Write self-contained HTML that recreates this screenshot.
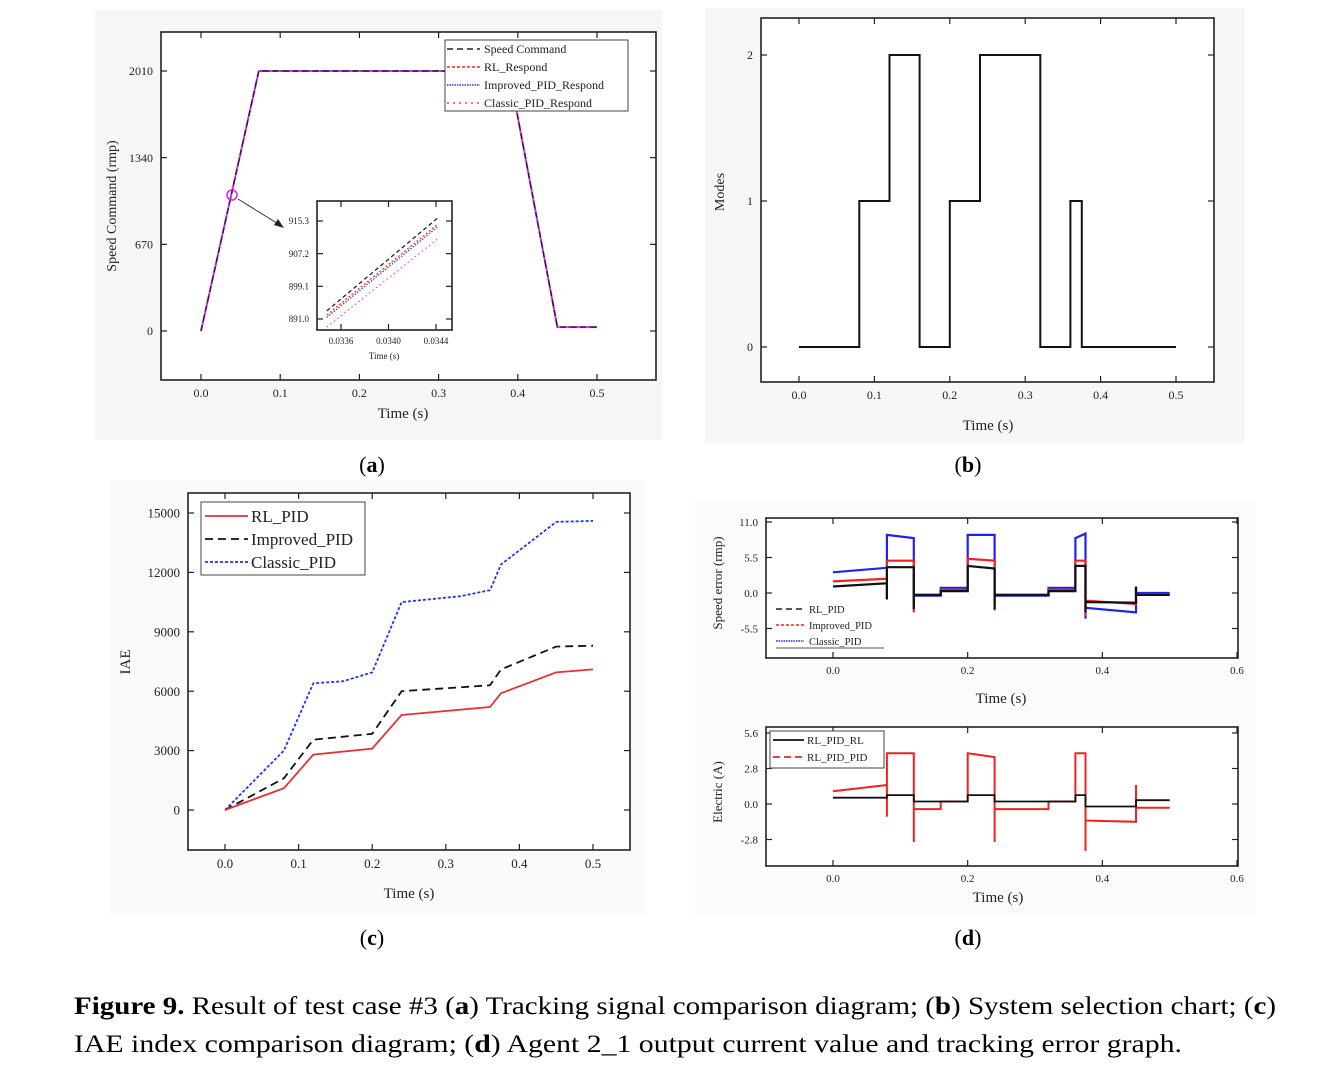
<!DOCTYPE html>
<html><head><meta charset="utf-8"><style>
html,body{margin:0;padding:0;background:#fff;}
svg{display:block;font-family:"Liberation Serif",serif;}
</style></head><body>
<svg id="fig" width="1329" height="1081" viewBox="0 0 1329 1081" xmlns="http://www.w3.org/2000/svg">
<rect x="95" y="10" width="567" height="430" fill="#f6f6f6"/>
<rect x="705" y="8" width="540" height="435" fill="#f7f7f7"/>
<rect x="110" y="480" width="535" height="435" fill="#fafafa"/>
<rect x="695" y="500" width="560" height="415" fill="#fbfbfb"/>
<g id="gA"></g>
<g id="gB"></g>
<g id="gC"></g>
<g id="gD"></g>
<text x="372" y="472" text-anchor="middle" font-size="22">(<tspan font-weight="bold">a</tspan>)</text>
<text x="968" y="472" text-anchor="middle" font-size="22">(<tspan font-weight="bold">b</tspan>)</text>
<text x="372" y="945" text-anchor="middle" font-size="22">(<tspan font-weight="bold">c</tspan>)</text>
<text x="968" y="945" text-anchor="middle" font-size="22">(<tspan font-weight="bold">d</tspan>)</text>
<text x="74" y="1014" font-size="25" textLength="1202" lengthAdjust="spacingAndGlyphs"><tspan font-weight="bold">Figure 9.</tspan> Result of test case #3 (<tspan font-weight="bold">a</tspan>) Tracking signal comparison diagram; (<tspan font-weight="bold">b</tspan>) System selection chart; (<tspan font-weight="bold">c</tspan>)</text>
<text x="74" y="1052" font-size="25" textLength="1108" lengthAdjust="spacingAndGlyphs">IAE index comparison diagram; (<tspan font-weight="bold">d</tspan>) Agent 2_1 output current value and tracking error graph.</text>
</svg>
<script>
// ---------- data ----------
// Panel (a)
const aTicksX = [0.0, 0.1, 0.2, 0.3, 0.4, 0.5];
const aTickLabelsX = ["0.0", "0.1", "0.2", "0.3", "0.4", "0.5"];
const aTicksY = [0, 670, 1340, 2010];
const aTickLabelsY = ["0", "670", "1340", "2010"];
const aCmdT = [0, 0.073, 0.389, 0.45, 0.5];
const aCmdV = [0, 2010, 2010, 30, 30];
const aInsetTicksX = [0.0336, 0.0340, 0.0344];
const aInsetTickLabelsX = ["0.0336", "0.0340", "0.0344"];
const aInsetTicksY = [891.0, 899.1, 907.2, 915.3];
const aInsetTickLabelsY = ["891.0", "899.1", "907.2", "915.3"];
const aInsetT = [0.03348, 0.03442];
const aInsetCmd = [893.0, 916.2];
const aInsetRL = [892.0, 914.6];
const aInsetImp = [891.4, 914.0];
const aInsetCls = [889.0, 911.0];
// Panel (b)
const bTicksX = [0.0, 0.1, 0.2, 0.3, 0.4, 0.5];
const bTickLabelsX = ["0.0", "0.1", "0.2", "0.3", "0.4", "0.5"];
const bTicksY = [0, 1, 2];
const bTickLabelsY = ["0", "1", "2"];
const bBreaks = [0, 0.08, 0.12, 0.16, 0.2, 0.24, 0.32, 0.36, 0.375, 0.5];
const bModes = [0, 1, 2, 0, 1, 2, 0, 1, 0];
// Panel (c)
const cTicksX = [0.0, 0.1, 0.2, 0.3, 0.4, 0.5];
const cTickLabelsX = ["0.0", "0.1", "0.2", "0.3", "0.4", "0.5"];
const cTicksY = [0, 3000, 6000, 9000, 12000, 15000];
const cTickLabelsY = ["0", "3000", "6000", "9000", "12000", "15000"];
const cRLT = [0, 0.08, 0.12, 0.2, 0.24, 0.36, 0.375, 0.45, 0.5];
const cRLV = [0, 1100, 2800, 3100, 4800, 5200, 5900, 6950, 7100];
const cImpT = [0, 0.08, 0.12, 0.2, 0.24, 0.36, 0.375, 0.45, 0.5];
const cImpV = [0, 1600, 3550, 3850, 6000, 6300, 7100, 8250, 8300];
const cClsT = [0, 0.08, 0.12, 0.16, 0.2, 0.24, 0.32, 0.36, 0.375, 0.45, 0.5];
const cClsV = [0, 3000, 6400, 6500, 6950, 10500, 10800, 11100, 12400, 14550, 14600];
// Panel (d)
const dTicksX = [0.0, 0.2, 0.4, 0.6];
const dTickLabelsX = ["0.0", "0.2", "0.4", "0.6"];
const dTopTicksY = [-5.5, 0, 5.5, 11.0];
const dTopTickLabelsY = ["-5.5", "0.0", "5.5", "11.0"];
const dBotTicksY = [-2.8, 0, 2.8, 5.6];
const dBotTickLabelsY = ["-2.8", "0.0", "2.8", "5.6"];
const dBreaks = [0, 0.08, 0.12, 0.16, 0.2, 0.24, 0.32, 0.36, 0.375, 0.45, 0.5];
const dErrRLStart = [1.0, 4.0, -0.3, 0.3, 4.2, -0.3, 0.3, 4.2, -1.4, -0.3];
const dErrRLEnd   = [1.5, 4.0, -0.3, 0.3, 3.8, -0.3, 0.3, 4.2, -1.5, -0.3];
const dErrRLSpike = [0, -1.0, -2.5, 0, 0, -2.5, 0, 0, -3.0, 1.0, 0];
const dErrImpStart = [1.8, 5.0, -0.3, 0.5, 5.3, -0.3, 0.5, 5.0, -1.2, -0.2];
const dErrImpEnd   = [2.2, 5.0, -0.3, 0.5, 5.0, -0.3, 0.5, 5.0, -1.7, -0.2];
const dErrImpSpike = [0, -1.0, -3.0, 0, 0, -2.7, 0, 0, -3.5, 1.0, 0];
const dErrClsStart = [3.2, 9.0, -0.4, 0.8, 9.0, -0.4, 0.8, 8.5, -2.3, 0.0];
const dErrClsEnd   = [3.9, 8.5, -0.4, 0.8, 9.0, -0.4, 0.8, 9.2, -3.0, 0.0];
const dErrClsSpike = [0, 0, -2.0, 0, 0, -2.0, 0, 0, -4.0, 1.0, 0];
const dCurRLStart = [0.5, 0.7, 0.2, 0.2, 0.7, 0.2, 0.2, 0.7, -0.2, 0.3];
const dCurRLEnd   = [0.5, 0.7, 0.2, 0.2, 0.7, 0.2, 0.2, 0.7, -0.2, 0.3];
const dCurRLSpike = [0, 0, 0, 0, 0, 0, 0, 0, 0, 0, 0];
const dCurPIDStart = [1.0, 4.0, -0.4, 0.2, 4.0, -0.4, 0.2, 4.0, -1.3, -0.3];
const dCurPIDEnd   = [1.5, 4.0, -0.4, 0.2, 3.7, -0.4, 0.2, 4.0, -1.4, -0.3];
const dCurPIDSpike = [0, -1.0, -3.0, 0, 0, -3.0, 0, 0, -3.7, 1.5, 0];

// ---------- helpers ----------
const NS = "http://www.w3.org/2000/svg";
function mk(parent, tag, attrs) {
  const e = document.createElementNS(NS, tag);
  for (const k in attrs) e.setAttribute(k, attrs[k]);
  parent.appendChild(e);
  return e;
}
function lin(d0, d1, r0, r1) { return v => r0 + (v - d0) * (r1 - r0) / (d1 - d0); }

function axes(g, box, xs, ys, xt, xl, yt, yl, fs, prefix) {
  const fr = mk(g, "rect", {x: box.l, y: box.t, width: box.r - box.l, height: box.b - box.t, fill: "#fff", stroke: "#222", "stroke-width": 1.6});
  
  
  xt.forEach((v, i) => {
    const x = xs(v);
    const t1 = mk(g, "line", {x1: x, y1: box.b, x2: x, y2: box.b - 6, stroke: "#222", "stroke-width": 1.2});
    
    
    const t2 = mk(g, "line", {x1: x, y1: box.t, x2: x, y2: box.t + 6, stroke: "#222", "stroke-width": 1.2});
    
    
    const lb = mk(g, "text", {x: x, y: box.b + fs + 5, "text-anchor": "middle", "font-size": fs, fill: "#222"});
    lb.textContent = xl[i];
    
    
  });
  yt.forEach((v, i) => {
    const y = ys(v);
    const t1 = mk(g, "line", {x1: box.l, y1: y, x2: box.l + 6, y2: y, stroke: "#222", "stroke-width": 1.2});
    
    
    const t2 = mk(g, "line", {x1: box.r, y1: y, x2: box.r - 6, y2: y, stroke: "#222", "stroke-width": 1.2});
    
    
    const lb = mk(g, "text", {x: box.l - 8, y: y + fs * 0.35, "text-anchor": "end", "font-size": fs, fill: "#222"});
    lb.textContent = yl[i];
    
    
  });
}
function poly(ts, vs, xs, ys) {
  return ts.map((t, i) => (i ? "L" : "M") + xs(t).toFixed(1) + "," + ys(vs[i]).toFixed(1)).join(" ");
}
function stepPath(br, st, en, sp, xs, ys) {
  let d = "M" + xs(br[0]).toFixed(1) + "," + ys(st[0]).toFixed(1);
  for (let i = 0; i < st.length; i++) {
    const x1 = xs(br[i + 1]);
    d += " L" + x1.toFixed(1) + "," + ys(en[i]).toFixed(1);
    if (i + 1 < st.length) {
      if (sp[i + 1]) d += " L" + x1.toFixed(1) + "," + ys(sp[i + 1]).toFixed(1);
      d += " L" + x1.toFixed(1) + "," + ys(st[i + 1]).toFixed(1);
    }
  }
  return d;
}
function txt(g, x, y, s, fs, rot, anchor) {
  const e = mk(g, "text", {x: x, y: y, "font-size": fs, fill: "#222", "text-anchor": anchor || "middle"});
  if (rot) e.setAttribute("transform", "rotate(-90 " + x + " " + y + ")");
  e.textContent = s;
  return e;
}

// ---------- Panel (a) ----------
(function () {
  const g = document.getElementById("gA");
  const box = {l: 161, r: 656, t: 32, b: 380};
  const xs = lin(0, 0.5, 201, 597), ys = lin(0, 2010, 331, 71);
  axes(g, box, xs, ys, aTicksX, aTickLabelsX, aTicksY, aTickLabelsY, 12, "a");
  const d = poly(aCmdT, aCmdV, xs, ys);
  const s1 = mk(g, "path", {d: d, fill: "none", stroke: "#ff33ff", "stroke-width": 2});
  
  
  const s2 = mk(g, "path", {d: d, fill: "none", stroke: "#3333cc", "stroke-width": 1.2, "stroke-dasharray": "2 2"});
  
  
  const s3 = mk(g, "path", {d: d, fill: "none", stroke: "#222", "stroke-width": 1.4, "stroke-dasharray": "6 4"});
  
  
  const c = mk(g, "circle", {cx: 232, cy: 195, r: 5, fill: "none", stroke: "#e020e0", "stroke-width": 1.5});
  
  
  const ar = mk(g, "line", {x1: 238, y1: 199, x2: 280, y2: 225, stroke: "#333", "stroke-width": 1});
  
  
  const ah = mk(g, "path", {d: "M284,228 L274,225 L278,219 Z", fill: "#222"});
  
  
  // inset
  const ib = {l: 317, r: 452, t: 201, b: 330};
  const ixs = lin(0.0336, 0.0344, 341, 436), iys = lin(891.0, 915.3, 319, 221);
  axes(g, ib, ixs, iys, aInsetTicksX, aInsetTickLabelsX, aInsetTicksY, aInsetTickLabelsY, 9, "a-inset");
  const sets = [[aInsetCls, "#ff44ff", "1.5 3", "a-inset-classic-line"], [aInsetImp, "#4444cc", "1.5 1.5", "a-inset-improved-line"], [aInsetRL, "#ff3333", "2 2", "a-inset-rl-line"], [aInsetCmd, "#222", "4 3", "a-inset-command-line"]];
  sets.forEach(s => {
    const p = mk(g, "path", {d: poly(aInsetT, s[0], ixs, iys), fill: "none", stroke: s[1], "stroke-width": 1.3, "stroke-dasharray": s[2]});
    
    
  });
  const it = txt(g, 384, 359, "Time (s)", 9);
  
  
  // legend
  const lg = mk(g, "rect", {x: 445, y: 40, width: 183, height: 71, fill: "#fff", stroke: "#444", "stroke-width": 1});
  
  
  const items = [["Speed Command", "#222", "6 4", 1.5], ["RL_Respond", "#ff2222", "3 2", 1.6], ["Improved_PID_Respond", "#3333cc", "1.5 1", 1.6], ["Classic_PID_Respond", "#ff44ff", "2 4", 1.8]];
  items.forEach((it2, i) => {
    const y = 49 + i * 18;
    const l = mk(g, "line", {x1: 447, y1: y, x2: 480, y2: y, stroke: it2[1], "stroke-dasharray": it2[2], "stroke-width": it2[3]});
    
    
    const t = txt(g, 484, y + 4, it2[0], 12, false, "start");
    
    
  });
  const xt = txt(g, 403, 418, "Time (s)", 15);
  
  
  const yt = txt(g, 116, 206, "Speed Command (rmp)", 14, true);
  
  
})();

// ---------- Panel (b) ----------
(function () {
  const g = document.getElementById("gB");
  const box = {l: 761, r: 1214, t: 18, b: 382};
  const xs = lin(0, 0.5, 799, 1176), ys = lin(0, 2, 347, 55);
  axes(g, box, xs, ys, bTicksX, bTickLabelsX, bTicksY, bTickLabelsY, 12, "b");
  let d = "M" + xs(bBreaks[0]) + "," + ys(bModes[0]);
  for (let i = 0; i < bModes.length; i++) {
    d += " L" + xs(bBreaks[i + 1]).toFixed(1) + "," + ys(bModes[i]).toFixed(1);
    if (i + 1 < bModes.length) d += " L" + xs(bBreaks[i + 1]).toFixed(1) + "," + ys(bModes[i + 1]).toFixed(1);
  }
  const p = mk(g, "path", {d: d, fill: "none", stroke: "#111", "stroke-width": 2});
  
  
  const xt = txt(g, 988, 430, "Time (s)", 15);
  
  
  const yt = txt(g, 724, 192, "Modes", 14, true);
  
  
})();

// ---------- Panel (c) ----------
(function () {
  const g = document.getElementById("gC");
  const box = {l: 188, r: 630, t: 493, b: 850};
  const xs = lin(0, 0.5, 225, 593), ys = lin(0, 15000, 810, 513);
  axes(g, box, xs, ys, cTicksX, cTickLabelsX, cTicksY, cTickLabelsY, 13, "c");
  const s = [[cClsT, cClsV, "#2233ee", "3 2", "c-classic-pid-line"], [cImpT, cImpV, "#111", "8 5", "c-improved-pid-line"], [cRLT, cRLV, "#e33333", "", "c-rl-pid-line"]];
  s.forEach(q => {
    const p = mk(g, "path", {d: poly(q[0], q[1], xs, ys), fill: "none", stroke: q[2], "stroke-width": 1.8, "stroke-dasharray": q[3]});
    
    
  });
  const lg = mk(g, "rect", {x: 201, y: 502, width: 164, height: 73, fill: "#fff", stroke: "#444", "stroke-width": 1});
  
  
  const items = [["RL_PID", "#e33333", ""], ["Improved_PID", "#111", "8 5"], ["Classic_PID", "#2233ee", "3 2"]];
  items.forEach((it, i) => {
    const y = 516 + i * 23;
    const l = mk(g, "line", {x1: 205, y1: y, x2: 248, y2: y, stroke: it[1], "stroke-width": 1.8, "stroke-dasharray": it[2]});
    
    
    const t = txt(g, 251, y + 6, it[0], 17, false, "start");
    
    
  });
  const xt = txt(g, 409, 898, "Time (s)", 15);
  
  
  const yt = txt(g, 130, 662, "IAE", 15, true);
  
  
})();

// ---------- Panel (d) ----------
(function () {
  const g = document.getElementById("gD");
  const xs = lin(0, 0.6, 833, 1237);
  // top
  const boxT = {l: 766, r: 1238, t: 518, b: 658};
  const ysT = lin(0, 11.0, 593, 522);
  axes(g, boxT, xs, ysT, dTicksX, dTickLabelsX, dTopTicksY, dTopTickLabelsY, 11, "d-top");
  const tops = [[dErrClsStart, dErrClsEnd, dErrClsSpike, "#2222ee", "", "d-classic-pid-error-line"], [dErrImpStart, dErrImpEnd, dErrImpSpike, "#ee2222", "", "d-improved-pid-error-line"], [dErrRLStart, dErrRLEnd, dErrRLSpike, "#111", "", "d-rl-pid-error-line"]];
  tops.forEach(q => {
    const p = mk(g, "path", {d: stepPath(dBreaks, q[0], q[1], q[2], xs, ysT), fill: "none", stroke: q[3], "stroke-width": 2.2});
    
    
  });
  const li = [["RL_PID", "#222", "6 4"], ["Improved_PID", "#ee2222", "3 2"], ["Classic_PID", "#2222ee", "1.5 1"]];
  li.forEach((it, i) => {
    const y = 609 + i * 16;
    const l = mk(g, "line", {x1: 776, y1: y, x2: 804, y2: y, stroke: it[1], "stroke-width": 1.5, "stroke-dasharray": it[2]});
    
    
    const t = txt(g, 809, y + 4, it[0], 10.5, false, "start");
    
    
  });
  const ul = mk(g, "line", {x1: 776, y1: 648, x2: 884, y2: 648, stroke: "#555", "stroke-width": 1});
  
  
  const xt1 = txt(g, 1001, 703, "Time (s)", 15);
  
  
  const yt1 = txt(g, 722, 583, "Speed error (rmp)", 13, true);
  
  
  // bottom
  const boxB = {l: 766, r: 1238, t: 727, b: 866};
  const ysB = lin(0, 5.6, 804, 733);
  axes(g, boxB, xs, ysB, dTicksX, dTickLabelsX, dBotTicksY, dBotTickLabelsY, 11, "d-bottom");
  const p1 = mk(g, "path", {d: stepPath(dBreaks, dCurPIDStart, dCurPIDEnd, dCurPIDSpike, xs, ysB), fill: "none", stroke: "#ee2222", "stroke-width": 2, "stroke-dasharray": "60 0"});
  
  
  const p2 = mk(g, "path", {d: stepPath(dBreaks, dCurRLStart, dCurRLEnd, dCurRLSpike, xs, ysB), fill: "none", stroke: "#111", "stroke-width": 1.8});
  
  
  const lg = mk(g, "rect", {x: 770, y: 731, width: 114, height: 37, fill: "#fff", stroke: "#444", "stroke-width": 1});
  
  
  const lb = [["RL_PID_RL", "#111", ""], ["RL_PID_PID", "#ee2222", "7 4"]];
  lb.forEach((it, i) => {
    const y = 740 + i * 17;
    const l = mk(g, "line", {x1: 773, y1: y, x2: 804, y2: y, stroke: it[1], "stroke-width": 1.8, "stroke-dasharray": it[2]});
    
    
    const t = txt(g, 807, y + 4, it[0], 11, false, "start");
    
    
  });
  const xt2 = txt(g, 998, 902, "Time (s)", 15);
  
  
  const yt2 = txt(g, 722, 792, "Electric (A)", 13, true);
  
  
})();
</script>
</body></html>
